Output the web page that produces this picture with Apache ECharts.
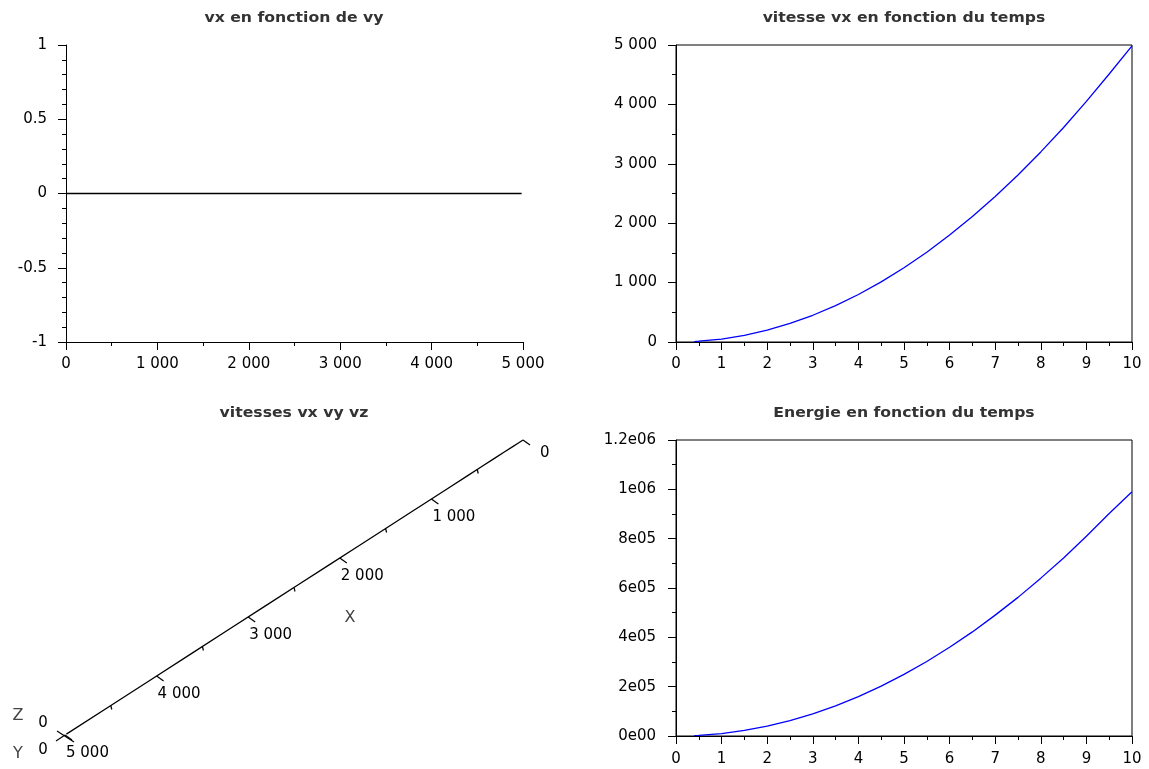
<!DOCTYPE html>
<html><head><meta charset="utf-8">
<script src="https://cdn.jsdelivr.net/npm/echarts@6/dist/echarts.min.js"></script>
<style>html,body{margin:0;padding:0;background:#fff}#c{width:1149px;height:769px}</style>
</head><body><div id="c"></div>
<script>
// ---- data ----
const time   = [0.4, 0.5, 1, 1.5, 2, 2.5, 3, 3.5, 4, 4.5, 5, 5.5, 6, 6.5, 7, 7.5, 8, 8.5, 9, 9.5, 10];
const vx     = [8, 13, 50, 112, 200, 312, 450, 612, 800, 1012, 1250, 1512, 1800, 2112, 2450, 2812, 3200, 3612, 4050, 4512, 4985];
const vy     = [0, 0, 0, 0, 0, 0, 0, 0, 0, 0, 0, 0, 0, 0, 0, 0, 0, 0, 0, 0, 0];
const energy = [1600, 2500, 10000, 22500, 40000, 62000, 90000, 122000, 160000, 202000, 250000, 302000, 360000, 422000, 490000, 562000, 640000, 722000, 810000, 902000, 990000];
const vxTicks3d      = [0, 1000, 2000, 3000, 4000, 5000];
const vxMinorTicks3d = [500, 1500, 2500, 3500, 4500];
const energyTickLabels = ['0e00', '2e05', '4e05', '6e05', '8e05', '1e06', '1.2e06'];
const titles = ['vx en fonction de vy', 'vitesse vx en fonction du temps', 'vitesses vx vy vz', 'Energie en fonction du temps'];
const axisNames3d = ['X', 'Y', 'Z'];
const yzTickLabel3d = '0';

// ---- helpers ----
const FONT = 'DejaVu Sans';
const thousands = v => String(v).replace(/\B(?=(\d{3})+(?!\d))/g, ' ');

function axis(o) {
  return Object.assign({
    type: 'value',
    axisLine: { show: true, onZero: false, lineStyle: { color: '#000', width: 1 } },
    axisTick: { show: true, length: 8, lineStyle: { color: '#000', width: 1 } },
    minorTick: { show: true, length: 4, splitNumber: 2, lineStyle: { color: '#000', width: 1 } },
    splitLine: { show: false },
    minorSplitLine: { show: false },
    axisLabel: { color: '#000', fontFamily: FONT, fontSize: 15, margin: 15 }
  }, o);
}

const chart = echarts.init(document.getElementById('c'), null, { renderer: 'canvas' });

const option = {
  animation: false,
  backgroundColor: '#fff',
  grid: [
    { left: 66, top: 45, width: 457, height: 297 },
    { left: 676, top: 45, width: 456, height: 297, show: true, borderColor: '#000', borderWidth: 1, backgroundColor: 'transparent' },
    { left: 65, top: 440, width: 458, height: 295 },
    { left: 676, top: 440, width: 456, height: 296, show: true, borderColor: '#000', borderWidth: 1, backgroundColor: 'transparent' }
  ],
  xAxis: [
    axis({ gridIndex: 0, min: 0, max: 5000, interval: 1000, axisLabel: { color: '#000', fontFamily: FONT, fontSize: 15, margin: 15, formatter: thousands } }),
    axis({ gridIndex: 1, min: 0, max: 10, interval: 1 }),
    { type: 'value', gridIndex: 2, min: 0, max: 5000, inverse: true, show: false },
    axis({ gridIndex: 3, min: 0, max: 10, interval: 1, axisLabel: { color: '#000', fontFamily: FONT, fontSize: 15, margin: 16 } })
  ],
  yAxis: [
    axis({ gridIndex: 0, min: -1, max: 1, interval: 0.5,
      minorTick: { show: true, length: 4, splitNumber: 5, lineStyle: { color: '#000', width: 1 } },
      axisLabel: { color: '#000', fontFamily: FONT, fontSize: 15, margin: 19 } }),
    axis({ gridIndex: 1, min: 0, max: 5000, interval: 1000,
      axisLabel: { color: '#000', fontFamily: FONT, fontSize: 15, margin: 19, formatter: thousands } }),
    { type: 'value', gridIndex: 2, min: 0, max: 5000, inverse: true, show: false },
    axis({ gridIndex: 3, min: 0, max: 1200000, interval: 200000,
      axisLabel: { color: '#000', fontFamily: FONT, fontSize: 15, margin: 20,
        formatter: v => energyTickLabels[Math.round(v / 200000)] } })
  ],
  graphic: titles.map((t, i) => ({
    type: 'text',
    x: [294, 904, 294, 904][i],
    y: [18, 18, 413, 413][i],
    scaleX: 1.12,
    silent: true,
    style: { text: t, align: 'center', verticalAlign: 'middle', font: 'bold 14px "' + FONT + '"', fill: '#333' }
  })),
  series: [
    { type: 'line', xAxisIndex: 0, yAxisIndex: 0, symbol: 'none', silent: true,
      lineStyle: { color: '#000', width: 1.5 }, data: vx.map((v, i) => [v, vy[i]]) },
    { type: 'line', xAxisIndex: 1, yAxisIndex: 1, symbol: 'none', silent: true,
      lineStyle: { color: '#0000ff', width: 1.3 }, data: time.map((t, i) => [t, vx[i]]) },
    { type: 'line', xAxisIndex: 2, yAxisIndex: 2, symbol: 'none', silent: true, clip: false,
      lineStyle: { color: '#000', width: 1.3 }, data: [0].concat(vx).map(v => [v, v]) },
    { type: 'custom', xAxisIndex: 2, yAxisIndex: 2, silent: true, clip: false,
      data: vxTicks3d.map(v => [v, v, 1]).concat(vxMinorTicks3d.map(v => [v, v, 0])),
      renderItem: (params, api) => {
        const v = api.value(0), major = api.value(2) === 1;
        const p = api.coord([v, v]);
        const children = [{
          type: 'line',
          shape: major ? { x1: p[0], y1: p[1], x2: p[0] + 7, y2: p[1] + 5 } : { x1: p[0], y1: p[1], x2: p[0] + 1, y2: p[1] + 4 },
          style: { stroke: '#000', lineWidth: 1.2 }
        }];
        if (major) {
          const off = v === 0 ? [17, 13] : [1, 18];
          children.push({ type: 'text', x: p[0] + off[0], y: p[1] + off[1],
            style: { text: thousands(v), align: 'left', verticalAlign: 'middle', font: '15px "' + FONT + '"', fill: '#000' } });
        }
        return { type: 'group', children };
      } },
    { type: 'custom', xAxisIndex: 2, yAxisIndex: 2, silent: true, clip: false,
      data: [[5000, 5000]],
      renderItem: (params, api) => {
        const p = api.coord([api.value(0), api.value(1)]);
        const m = api.coord([2500, 2500]);
        const txt = (s, x, y, color, size) => ({ type: 'text', x, y,
          style: { text: s, align: 'center', verticalAlign: 'middle', font: size + 'px "' + FONT + '"', fill: color } });
        return { type: 'group', children: [
          { type: 'line', shape: { x1: p[0] - 8, y1: p[1] - 4, x2: p[0] + 9, y2: p[1] + 7 }, style: { stroke: '#000', lineWidth: 1.2 } },
          { type: 'line', shape: { x1: p[0] - 9, y1: p[1] + 6, x2: p[0], y2: p[1] }, style: { stroke: '#000', lineWidth: 1.2 } },
          txt(yzTickLabel3d, p[0] - 22, p[1] - 12, '#000', 15),
          txt(yzTickLabel3d, p[0] - 22, p[1] + 15, '#000', 15),
          txt(axisNames3d[2], p[0] - 47, p[1] - 19, '#444', 16),
          txt(axisNames3d[1], p[0] - 47, p[1] + 19, '#444', 16),
          txt(axisNames3d[0], m[0] + 56, m[1] + 30, '#444', 16)
        ] };
      } },
    { type: 'line', xAxisIndex: 3, yAxisIndex: 3, symbol: 'none', silent: true,
      lineStyle: { color: '#0000ff', width: 1.3 }, data: time.map((t, i) => [t, energy[i]]) }
  ]
};
chart.setOption(option);
</script>
</body></html>
